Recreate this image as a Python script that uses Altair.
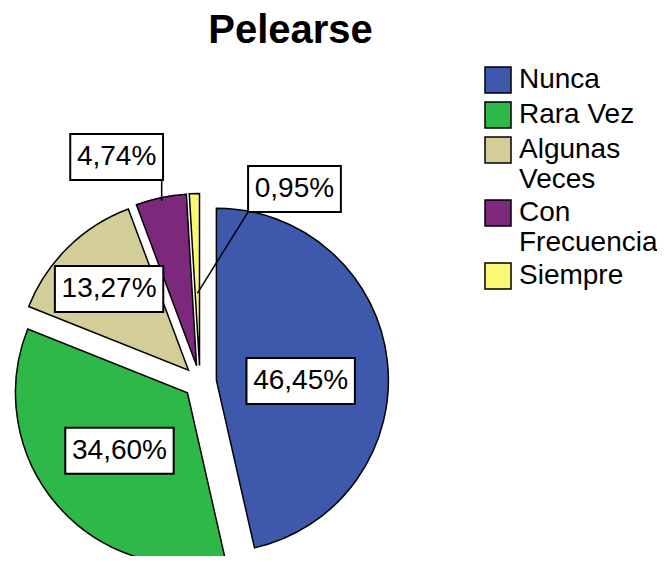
import altair as alt
import pandas as pd

# ---- data ----
categories = ["Nunca", "Rara Vez", "Algunas Veces", "Con Frecuencia", "Siempre"]
percentages = [46.45, 34.60, 13.27, 4.74, 0.95]
colors = ["#3E58AC", "#2EB848", "#D3CE97", "#7C287D", "#FBF873"]

# ---- layout (pixels / fractions of the radius) ----
CX, CY = 192, 324        # pie centre inside the plot area
R = 172                  # pie radius
EXPLODE = 16.5           # distance each slice is pulled out
label_frac = [0.49, 0.52, 0.66, 1.30, 1.165]   # label distance / radius
label_shift_deg = [7, 0, 0, -9, 30]            # label angle relative to slice middle
leader_frac = [0, 0, 0, 0.98, 0.42]            # leader line start (0 = no leader)

df = pd.DataFrame({
    "cat": categories,
    "pct": percentages,
    "order": list(range(len(categories))),
    "lf": label_frac,
    "ls": label_shift_deg,
    "ld": leader_frac,
})

FONT = "Liberation Sans"

base = (
    alt.Chart(df)
    .transform_window(cum="sum(pct)", sort=[alt.SortField("order")], frame=[None, 0])
    .transform_joinaggregate(total="sum(pct)")
    .transform_calculate(t0="(datum.cum - datum.pct) / datum.total * 2 * PI")
    .transform_calculate(t1="datum.cum / datum.total * 2 * PI")
    .transform_calculate(mid="(datum.t0 + datum.t1) / 2")
    .transform_calculate(ax=f"{CX} + {EXPLODE} * sin(datum.mid)")
    .transform_calculate(ay=f"{CY} - {EXPLODE} * cos(datum.mid)")
    .transform_calculate(la="datum.mid + datum.ls * PI / 180")
    .transform_calculate(lx=f"datum.ax + datum.lf * {R} * sin(datum.la)")
    .transform_calculate(ly=f"datum.ay - datum.lf * {R} * cos(datum.la)")
    .transform_calculate(lab="replace(format(datum.pct, '.2f'), '.', ',') + '%'")
    .transform_calculate(bw="15.6 * (length(datum.lab) - 2) + 46")
    .transform_calculate(bx0="datum.lx - datum.bw / 2")
    .transform_calculate(bx1="datum.lx + datum.bw / 2")
    .transform_calculate(by0="datum.ly - 23")
    .transform_calculate(by1="datum.ly + 23")
    .transform_calculate(sx=f"datum.ax + datum.ld * {R} * sin(datum.mid)")
    .transform_calculate(sy=f"datum.ay - datum.ld * {R} * cos(datum.mid)")
    .transform_calculate(ex="clamp(datum.sx, datum.bx0, datum.bx1)")
    .transform_calculate(ey="clamp(datum.sy, datum.by0, datum.by1)")
)

arcs = base.mark_arc(radius=R, stroke="black", strokeWidth=1.5).encode(
    theta=alt.Theta("t0:Q", scale=None, stack=None),
    theta2="t1:Q",
    x=alt.X("ax:Q", scale=None, axis=None),
    y=alt.Y("ay:Q", scale=None, axis=None),
    color=alt.Color(
        "cat:N",
        scale=alt.Scale(domain=categories, range=colors),
        sort=categories,
        legend=alt.Legend(
            orient="none",
            legendX=476,
            legendY=8,
            title=None,
            padding=0,
            symbolType="square",
            symbolSize=676,
            symbolStrokeColor="black",
            symbolStrokeWidth=1.5,
            labelFont=FONT,
            labelFontSize=28,
            labelColor="black",
            labelOffset=7,
            labelLimit=300,
            rowPadding=3,
            labelExpr="length(datum.label) > 9 ? split(datum.label, ' ') : datum.label",
        ),
    ),
    tooltip=["cat:N", "pct:Q"],
)

leaders = base.transform_filter("datum.ld > 0").mark_rule(color="black", strokeWidth=1.5).encode(
    x=alt.X("sx:Q", scale=None, axis=None),
    y=alt.Y("sy:Q", scale=None, axis=None),
    x2="ex:Q",
    y2="ey:Q",
)

boxes = base.mark_rect(fill="white", stroke="black", strokeWidth=2).encode(
    x=alt.X("bx0:Q", scale=None, axis=None),
    x2="bx1:Q",
    y=alt.Y("by0:Q", scale=None, axis=None),
    y2="by1:Q",
)

texts = base.mark_text(font=FONT, fontSize=28, color="black", baseline="middle", align="center").encode(
    x=alt.X("lx:Q", scale=None, axis=None),
    y=alt.Y("ly:Q", scale=None, axis=None),
    text="lab:N",
)

chart = (
    alt.layer(arcs, leaders, boxes, texts)
    .properties(
        width=649,
        height=498,
        padding={"top": 50, "left": 0, "right": 0, "bottom": 0},
        autosize="none",
        title=alt.TitleParams(
            "Pelearse",
            font=FONT,
            fontSize=40,
            fontWeight="bold",
            color="black",
            anchor="middle",
            frame="group",
            dx=-42,
            offset=7,
        ),
    )
    .configure_view(stroke=None)
)

chart.save("out.html", embed_options={"renderer": "svg", "actions": False})
